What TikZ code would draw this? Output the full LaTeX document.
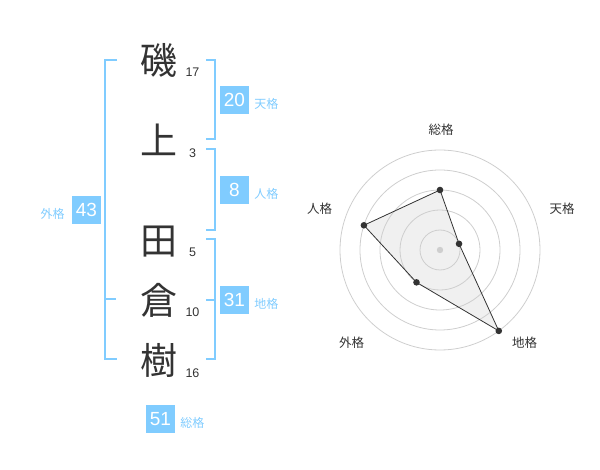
\documentclass[tikz,border=0pt]{standalone}
\usepackage{fontspec}
\setmainfont{Liberation Sans}
\newfontfamily\cjk{Noto Sans CJK JP}
\usetikzlibrary{positioning}
\definecolor{kakublue}{RGB}{128,204,255}
\definecolor{inkgray}{RGB}{51,51,51}
\definecolor{ringgray}{RGB}{206,206,206}
\definecolor{areagray}{RGB}{240,240,240}

\begin{document}
\begin{tikzpicture}[x=1pt,y=-1pt,
        kanji/.style={font=\cjk\fontsize{37}{37}\selectfont,text=inkgray,inner sep=0pt},
        strokes/.style={font=\fontsize{12.5}{12.5}\selectfont,text=inkgray,inner sep=0pt},
        kakubox/.style={fill=kakublue,text=white,font=\fontsize{19}{19}\selectfont,minimum width=29pt,minimum height=28pt,inner sep=0pt},
        kakulabel/.style={font=\cjk\fontsize{12}{12}\selectfont,text=kakublue,inner sep=0pt},
        bracket/.style={draw=kakublue,line width=2pt},
        axislabel/.style={font=\cjk\fontsize{12.5}{12.5}\selectfont,text=inkgray,inner sep=0pt}]
        \useasboundingbox (0,0) rectangle (600,470);

        \foreach \ch/\n/\y/\ny [count=\i] in {磯/17/60/72.5,上/3/140/153,田/5/242/252,倉/10/300/312,樹/16/360/373}
            {
                \node (k\i) at (159,\y)[kanji]{\ch};
                \node (s\i) at (192.5,\ny)[strokes]{\n};
            }

        \draw[bracket] (206,60) -- (215,60) -- (215,139.5) -- (206,139.5);
        \draw[bracket] (206,149.5) -- (215,149.5) -- (215,230) -- (206,230);
        \draw[bracket] (206,239.5) -- (215,239.5) -- (215,359.5) -- (206,359.5);
        \draw[bracket] (206,300) -- (215,300);
        \draw[bracket] (117,60) -- (105,60) -- (105,359.5) -- (117,359.5);
        \draw[bracket] (105,299.5) -- (116,299.5);

        \node (b20) at (234.5,100)[kakubox]{20};
        \node (b8) at (234.5,190)[kakubox]{8};
        \node (b31) at (234.5,300)[kakubox]{31};
        \node (b43) at (86.5,210)[kakubox]{43};
        \node (b51) at (160.5,419)[kakubox]{51};
        \node (l20)[kakulabel,right=5pt of b20,yshift=-4pt]{天格};
        \node (l8)[kakulabel,right=5pt of b8,yshift=-4pt]{人格};
        \node (l31)[kakulabel,right=5pt of b31,yshift=-4pt]{地格};
        \node (l43)[kakulabel,left=7pt of b43,yshift=-4pt]{外格};
        \node (l51)[kakulabel,right=5pt of b51,yshift=-4pt]{総格};

        \begin{scope}[shift={(440,250)},y=1pt]
            \coordinate (p1) at (90:60);
            \coordinate (p2) at (18:20);
            \coordinate (p3) at (-54:100);
            \coordinate (p4) at (-126:40);
            \coordinate (p5) at (162:80);
            \fill[areagray] (p1) -- (p2) -- (p3) -- (p4) -- (p5) -- cycle;
            \foreach \r in {20,40,...,100}
                {
                    \draw[ringgray,line width=0.8pt] (0,0) circle (\r);
                }
            \fill[ringgray] (0,0) circle (3.2);
            \draw[inkgray,line width=0.8pt] (p1) -- (p2) -- (p3) -- (p4) -- (p5) -- cycle;
            \foreach \i in {1,...,5}
                {
                    \fill[inkgray] (p\i) circle (3.3);
                }
            \node (a1) at (1,120)[axislabel]{総格};
            \node (a2) at (122,41.5)[axislabel]{天格};
            \node (a3) at (84.5,-92.5)[axislabel]{地格};
            \node (a4) at (-88.5,-92.5)[axislabel]{外格};
            \node (a5) at (-120.5,41.5)[axislabel]{人格};
        \end{scope}
    \end{tikzpicture}
\end{document}
